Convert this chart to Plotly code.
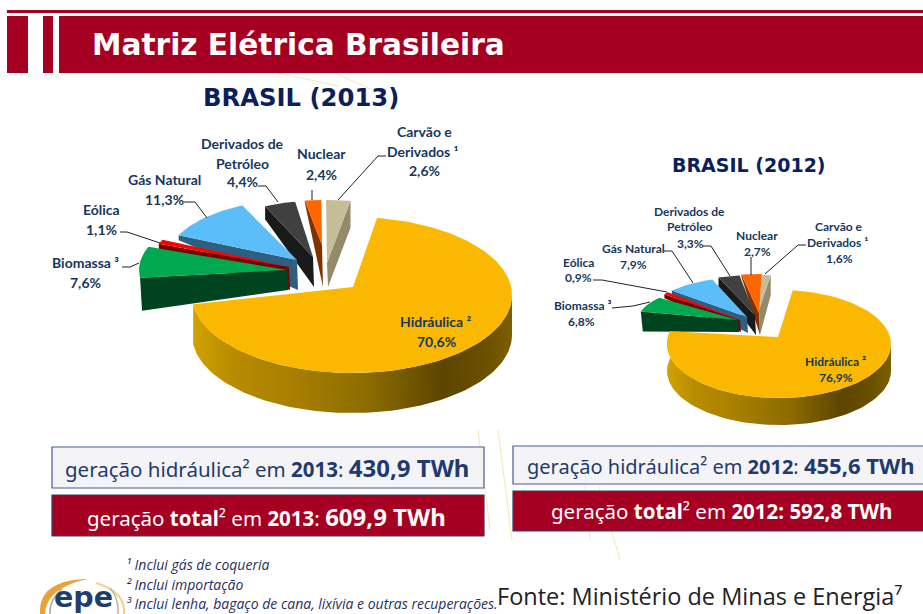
import numpy as np
import plotly.graph_objects as go

# ---------- data ----------
categories = ["Hidráulica", "Biomassa", "Eólica", "Gás Natural", "Derivados de Petróleo", "Nuclear", "Carvão e Derivados"]
values_2013 = [70.6, 7.6, 1.1, 11.3, 4.4, 2.4, 2.6]
values_2012 = [76.9, 6.8, 0.9, 7.9, 3.3, 2.7, 1.6]
hydro_gen = {"2013": "430,9", "2012": "455,6"}
total_gen = {"2013": "609,9", "2012": "592,8"}

# ---------- styles / geometry ----------
TOP = ["#FAB900", "#00A84F", "#FF0000", "#5BBEF8", "#404040", "#FF6600", "#C4BD97"]
SIDE = ["#8a6a00", "#00441F", "#7A0000", "#2F5F80", "#1A1A1A", "#7F3300", "#948A6A"]
BAR = "#A50021"
LBL = "#17375E"
NAVY = "#0B1F5C"
SANS = "Lato"
# per slice (after hydro): apex x, apex y, rx, ry, rim depth, apex bottom y, which cut face
GEO_2013 = dict(start=9, hydro=(353, 287, 352, 295, 160, 78, 40),
    parts=[(287, 270, 148, 66, 33, 290, "s"), (289, 267, 139, 66, 5, 290, "s"), (297, 260, 130, 60, 5, 290, "s"),
           (313, 257, 114, 56, 13, 287, "s"), (322, 245, 110, 45, 2, 287, "s"), (327, 263, 150, 63, 27, 287, "e")])
GEO_2012 = dict(start=7, hydro=(778, 337, 779, 344, 112, 54, 27),
    parts=[(738, 320, 100, 36, 20, 332, "s"), (740, 320, 96, 42, 4, 332, "s"), (747, 317, 100, 40, 4, 333, "s"),
           (755, 315, 105, 40, 9, 335, "s"), (759, 313, 120, 39, 2, 335, "s"), (759, 310, 96, 35, 20, 335, "e")])

fig = go.Figure()

def poly(x, y, color, name, grad=None):
    kw = dict(fillgradient=grad) if grad else dict(fillcolor=color)
    fig.add_trace(go.Scatter(x=list(x), y=list(y), mode="lines", fill="toself", line=dict(width=0, color=color),
                             name=name, hoverinfo="name", showlegend=False, **kw))

def pt(cx, cy, rx, ry, deg):
    t = np.radians(deg)
    return cx + rx * np.sin(t), cy - ry * np.cos(t)

def pie(values, geo):
    vals = np.array(values, float)
    ang = vals / vals.sum() * 360
    a0 = geo["start"]
    ax, ay, cx, cy, rx, ry, d = geo["hydro"]
    th = a0 + ang[0]
    edges = [th]
    for v in ang[1:]:
        edges.append(edges[-1] + v)
    # back-most slices first, so that the lower ones overlap them
    for i in range(len(geo["parts"]) - 1, -1, -1):
        px, py, prx, pry, rim, bot, face = geo["parts"][i]
        a, b = edges[i], edges[i + 1]
        name = categories[i + 1]
        f = a if face == "s" else b
        fx, fy = pt(px, py, prx, pry, f)
        poly([fx, fx + (2 if face == "s" and rim > 15 else 0), px + 1, px, fx],
             [fy, fy + rim, bot, py, fy], SIDE[i + 1], name + " (lado)")
        t = np.linspace(a, b, 24)
        xs, ys = pt(px, py, prx, pry, t)
        poly([px, *xs, px], [py, *ys, py], TOP[i + 1], name)
    # hydro rim with horizontal gradient
    t = np.linspace(90, th, 90)
    xs, ys = pt(cx, cy, rx, ry, t)
    grad = dict(type="horizontal", colorscale=[[0, "#D2A200"], [0.12, "#B88C00"], [0.3, "#A98000"], [0.55, "#8C6C00"],
                                                [0.78, "#5C4500"], [0.92, "#6A5000"], [1, "#7D5F00"]])
    poly([*xs, *xs[::-1], xs[0]], [*ys, *(ys[::-1] + d), ys[0]], SIDE[0], categories[0] + " (lado)", grad)
    t = np.linspace(a0, th, 180)
    xs, ys = pt(cx, cy, rx, ry, t)
    poly([ax, *xs, ax], [ay, *ys, ay], TOP[0], categories[0])

pie(values_2013, GEO_2013)
pie(values_2012, GEO_2012)

shapes = []
def rect(x0, y0, x1, y1, fill, line=None, w=1):
    shapes.append(dict(type="rect", xref="x", yref="y", x0=x0, y0=y0, x1=x1, y1=y1, fillcolor=fill,
                       line=dict(color=line or fill, width=w if line else 0), layer="below"))
def path(pts, color="#222222", w=1, layer="above"):
    d = "M" + " L".join(f"{x},{y}" for x, y in pts)
    shapes.append(dict(type="path", xref="x", yref="y", path=d, line=dict(color=color, width=w), layer=layer))
def curve(d, fill=None, line=None, w=1):
    shapes.append(dict(type="path", xref="x", yref="y", path=d, fillcolor=fill or "rgba(0,0,0,0)",
                       line=dict(color=line or "rgba(0,0,0,0)", width=w), layer="above"))

# decorative faint lines
for p in [[(278, 73), (338, 86)], [(335, 73), (372, 90)], [(478, 430), (490, 530)], [(498, 430), (512, 540)],
          [(585, 485), (590, 540)], [(598, 485), (620, 560)]]:
    path(p, "#F7E7B0", 1, "below")
# header
rect(7, 10, 923, 13, BAR)
rect(7, 16, 923, 73, BAR)
rect(28, 16, 43, 73, "white")
rect(53, 16, 59, 73, "white")
# boxes
rect(52, 447, 484, 488, "#F4F4F6", "#4A5A9A", 1.2)
rect(52, 495, 484, 536, BAR, "#3A3A6A", 1.2)
rect(513, 446, 930, 484, "#F4F4F6", "#4A5A9A", 1.2)
rect(513, 491, 930, 531, BAR, "#3A3A6A", 1.2)
# leaders
for p in [[(122, 267), (130, 267), (139, 263)], [(120, 232), (127, 232), (160, 243)], [(184, 202), (195, 202), (207, 218)],
          [(258, 186), (266, 186), (278, 202)], [(312, 190), (312, 200)], [(386, 156), (378, 156), (338, 200)],
          [(612, 308), (633, 306), (650, 302)], [(593, 280), (602, 280), (667, 292)], [(664, 251), (672, 251), (693, 283)],
          [(703, 246), (711, 246), (730, 276)], [(751, 257), (751, 275)], [(806, 245), (798, 245), (765, 274)]]:
    path(p)
# logo arcs
curve("M88,579 Q38,580 40,614 L45,614 Q46,588 88,579 Z", fill="#E8A33A")
curve("M50,614 Q49,600 62,589", line="#9AA6B0", w=1.5)
curve("M96,583 Q126,592 124,614", line="#F2CE94", w=2)
curve("M110,588 Q119,598 118,614", line="#C9B48A", w=1.5)

anns = []
def txt(x, y, s, size, color=LBL, bold=True, font=SANS, anchor="center", italic=False):
    t = f"<b>{s}</b>" if bold else s
    if italic:
        t = f"<i>{t}</i>"
    anns.append(dict(x=x, y=y, xref="x", yref="y", text=t, showarrow=False, xanchor=anchor, yanchor="middle",
                     font=dict(family=font, size=size, color=color)))

def pc(v):
    return f"{v:.1f}".replace(".", ",") + "%"

txt(90, 45, "Matriz Elétrica Brasileira", 29.6, "white", font="DejaVu Sans", anchor="left")
txt(301, 97, "BRASIL (2013)", 24.3, NAVY, font="DejaVu Sans")
txt(749, 165, "BRASIL (2012)", 19, NAVY, font="DejaVu Sans")

v = values_2013
for x, y, s in [(424, 131, "Carvão e"), (423, 151, "Derivados ¹"), (424, 170, pc(v[6])), (321, 153, "Nuclear"), (321, 174, pc(v[5])),
                (242, 143, "Derivados de"), (242, 163, "Petróleo"), (242, 181, pc(v[4])), (164, 179, "Gás Natural"), (164, 199, pc(v[3])),
                (101, 209, "Eólica"), (101, 229, pc(v[2])), (85, 262, "Biomassa ³"), (85, 282, pc(v[1])),
                (436, 321, "Hidráulica ²"), (436, 341, pc(v[0]))]:
    txt(x, y, s, 14)
v = values_2012
for x, y, s in [(839, 226, "Carvão e"), (837, 242, "Derivados ¹"), (839, 258, pc(v[6])), (757, 235, "Nuclear"), (757, 251, pc(v[5])),
                (689, 211, "Derivados de"), (690, 226, "Petróleo"), (690, 243, pc(v[4])), (633, 248, "Gás Natural"), (633, 264, pc(v[3])),
                (578, 262, "Eólica"), (578, 277, pc(v[2])), (582, 305, "Biomassa ³"), (581, 321, pc(v[1])),
                (835, 361, "Hidráulica ²"), (836, 377, pc(v[0]))]:
    txt(x, y, s, 12)

BOXF = "Noto Sans"
def big(s, size):
    return f'<span style="font-size:{size}px"><b>{s}</b></span>'
txt(267, 467, f"geração hidráulica² em <b>2013</b>: {big(hydro_gen['2013'] + ' TWh', 24)}", 20.5, "#1F3A6E", False, BOXF)
txt(266, 516, f"geração <b>total</b>² em <b>2013</b>: {big(total_gen['2013'] + ' TWh', 24)}", 20.5, "white", False, BOXF)
txt(721, 465, f"geração hidráulica² em <b>2012</b>: {big(hydro_gen['2012'] + ' TWh', 22)}", 20, "#1F3A6E", False, BOXF)
txt(721, 511, f"geração <b>total</b>² em <b>2012: {total_gen['2012']} TWh</b>", 20.5, "white", False, BOXF)

for y, s in [(564, "¹ Inclui gás de coqueria"), (584, "² Inclui importação"), (603, "³ Inclui lenha, bagaço de cana, lixívia e outras recuperações.")]:
    txt(124, y, s, 14, "#1F2F5F", False, "Open Sans", "left", True)
txt(495, 596, "Fonte: Ministério de Minas e Energia⁷", 23.5, "#222222", False, "Open Sans", "left")
txt(83, 597, "epe", 28.5, "#1C3F6E", True, "DejaVu Sans")

fig.update_layout(width=923, height=614, margin=dict(l=0, r=0, t=0, b=0), paper_bgcolor="white", plot_bgcolor="white",
                  xaxis=dict(range=[0, 923], visible=False, fixedrange=True), yaxis=dict(range=[614, 0], visible=False, fixedrange=True),
                  shapes=shapes, annotations=anns, showlegend=False)
fig.write_html("out.html", post_script="document.body.style.margin='0';", config=dict(displayModeBar=False))
